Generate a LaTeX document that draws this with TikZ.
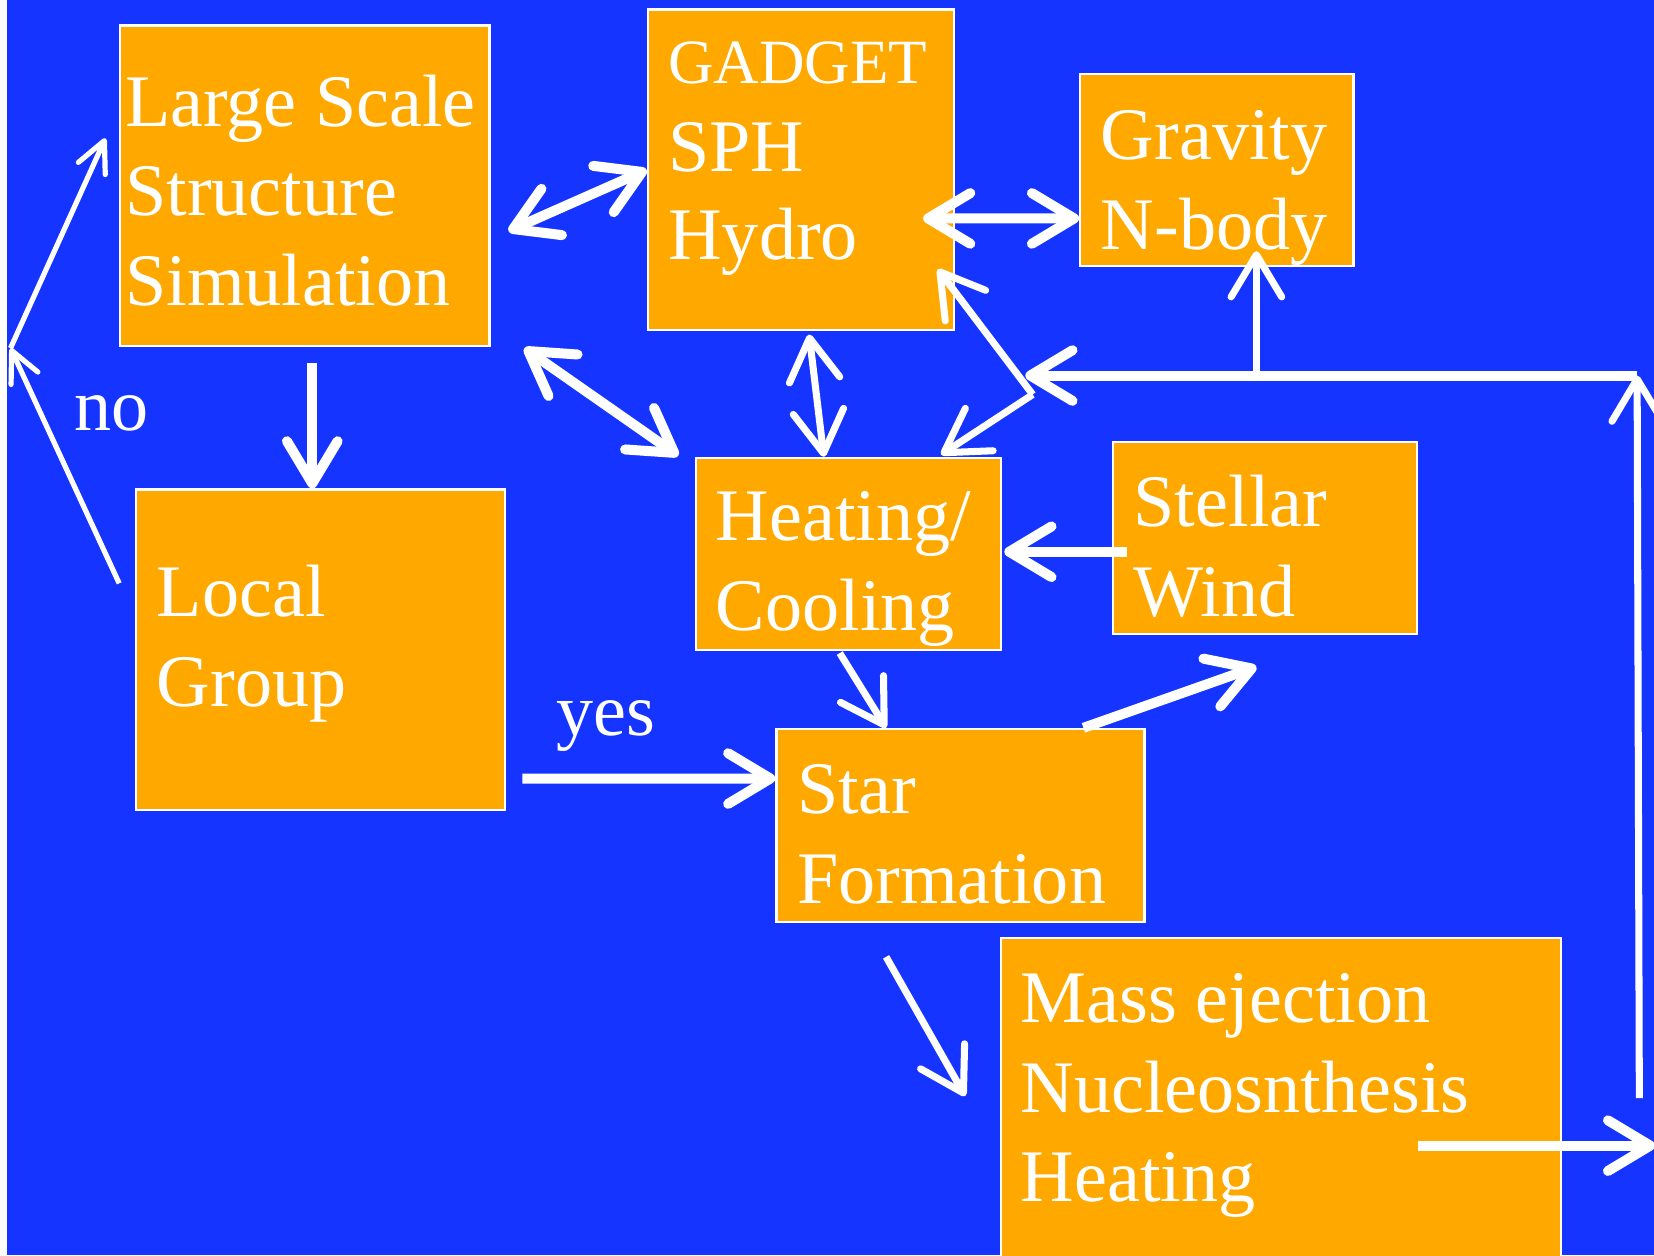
\documentclass[tikz,border=0pt]{standalone}
\usepackage{fontspec}
\setmainfont{Liberation Serif}
\usetikzlibrary{arrows.meta, calc}
\definecolor{slideblue}{RGB}{21,52,255}
\definecolor{boxorange}{RGB}{255,168,0}
\tikzset{
  barb/.tip={Straight Barb[round, length=4mm, width=4.8mm]},
  smallbarb/.tip={Straight Barb[round, length=2.9mm, width=2.8mm]},
  box/.style={rectangle, draw=white, line width=0.6pt, fill=boxorange, anchor=north west, inner sep=0pt},
  txt/.style={text=white, font=\fontsize{20}{24.2}\selectfont, align=left, anchor=north west, inner sep=0pt},
  lnk/.style={draw=white, line width=2.7pt},
  slimlnk/.style={draw=white, line width=1.9pt},
  hairlnk/.style={draw=white, line width=1.4pt, -smallbarb}
}

\begin{document}
\begin{tikzpicture}[x=0.1mm, y=-0.1mm]
  \useasboundingbox (0,0) rectangle (1568,1190);
  \fill[white] (0,0) rectangle (1568,1190);
  \fill[slideblue] (7,0) rectangle (1568,1190);

  % boxes
  \node[box, minimum width=35mm, minimum height=30.4mm] (lss) at (113,23) {};
  \node[box, minimum width=29mm, minimum height=30.4mm] (gad) at (613,8) {};
  \node[box, minimum width=25.9mm, minimum height=18.2mm] (grav) at (1023,69) {};
  \node[box, minimum width=35mm, minimum height=30.4mm] (lg) at (128,463) {};
  \node[box, minimum width=28.9mm, minimum height=18.2mm] (hc) at (659,433) {};
  \node[box, minimum width=28.8mm, minimum height=18.2mm] (sw) at (1054,418) {};
  \node[box, minimum width=34.9mm, minimum height=18.3mm] (sf) at (735,690) {};
  \node[box, minimum width=53.1mm, minimum height=32mm] (me) at (948,888) {};

  % texts
  \node[txt] (lssText) at (118,70) {Large Scale\\Structure\\Simulation};
  \node[txt] (gadText) at (633,39) {{\fontsize{17}{20}\selectfont GADGET}\\[-0.5pt]SPH\\[-0.5pt]Hydro};
  \node[txt] (gravText) at (1043,104) {Gravity\\N-body};
  \node[txt] (lgText) at (148,535) {Local\\Group};
  \node[txt] (hcText) at (678,465) {Heating/\\Cooling};
  \node[txt] (swText) at (1074,450) {Stellar\\Wind};
  \node[txt] (sfText) at (755,724) {Star\\Formation};
  \node[txt] (meText) at (967,922) {Mass ejection\\Nucleosnthesis\\Heating};
  \node[txt, anchor=base west] (noLbl) at (70,408) {no};
  \node[txt, anchor=base west] (yesLbl) at (527,697) {yes};

  % junction points
  \coordinate (bend) at (10,330);
  \coordinate (jr) at (1552,356);
  \coordinate (jl) at (972,356);
  \coordinate (jx) at (979,374);
  \coordinate (gtip) at ($(grav.south)+(37.5,-15)$);

  % arrows
  \draw[hairlnk] ($(lg.north west)+(-15,90)$) -- (bend);
  \draw[hairlnk] (bend) -- ($(lss.west)+(-13,-45)$);
  \draw[lnk, -barb] ($(lss.south)+(7,15)$) -- ($(lg.north)+(-8,0)$);
  \draw[lnk, barb-barb] ($(lss.east)+(17,43)$) -- (gad.west);
  \draw[lnk, barb-barb] ($(lss.south east)+(32,1)$) -- ($(hc.north west)+(-16,-1)$);
  \draw[lnk, barb-barb] ($(gad.east)+(-30,46)$) -- ($(grav.west)+(0,46)$);
  \draw[slimlnk, barb-barb] ($(gad.south)+(8,3)$) -- ($(hc.north)+(-23.5,0)$);
  \draw[slimlnk, -barb] ($(me.east)+(73,-8)$) -- (jr);
  \draw[lnk, -barb] (jr) -- (jl);
  \draw[slimlnk, -barb] (gtip |- jr) -- (gtip);
  \draw[slimlnk, -barb] (jx) -- ($(gad.south east)+(-16,-59)$);
  \draw[slimlnk, -barb] (jx) -- ($(hc.north east)+(-58,-2)$);
  \draw[lnk, -barb] ($(sw.west)+(14,13)$) -- ($(hc.east)+(2,-2)$);
  \draw[slimlnk, -barb] ($(hc.south)+(-8.5,2)$) -- ($(sf.north west)+(105,0)$);
  \draw[lnk, -barb] ($(sf.north east)+(-59,0)$) -- ($(sw.south)+(-8,30)$);
  \draw[slimlnk, -barb] ($(sf.south west)+(105,32)$) -- ($(me.west)+(-33,-10)$);
  \draw[lnk, -barb] ($(lg.east)+(15,122)$) -- ($(sf.west)+(0,-44.5)$);
  \draw[lnk, -barb] ($(me.east)+(-137,37)$) -- ($(me.east)+(88,37)$);
\end{tikzpicture}
\end{document}
